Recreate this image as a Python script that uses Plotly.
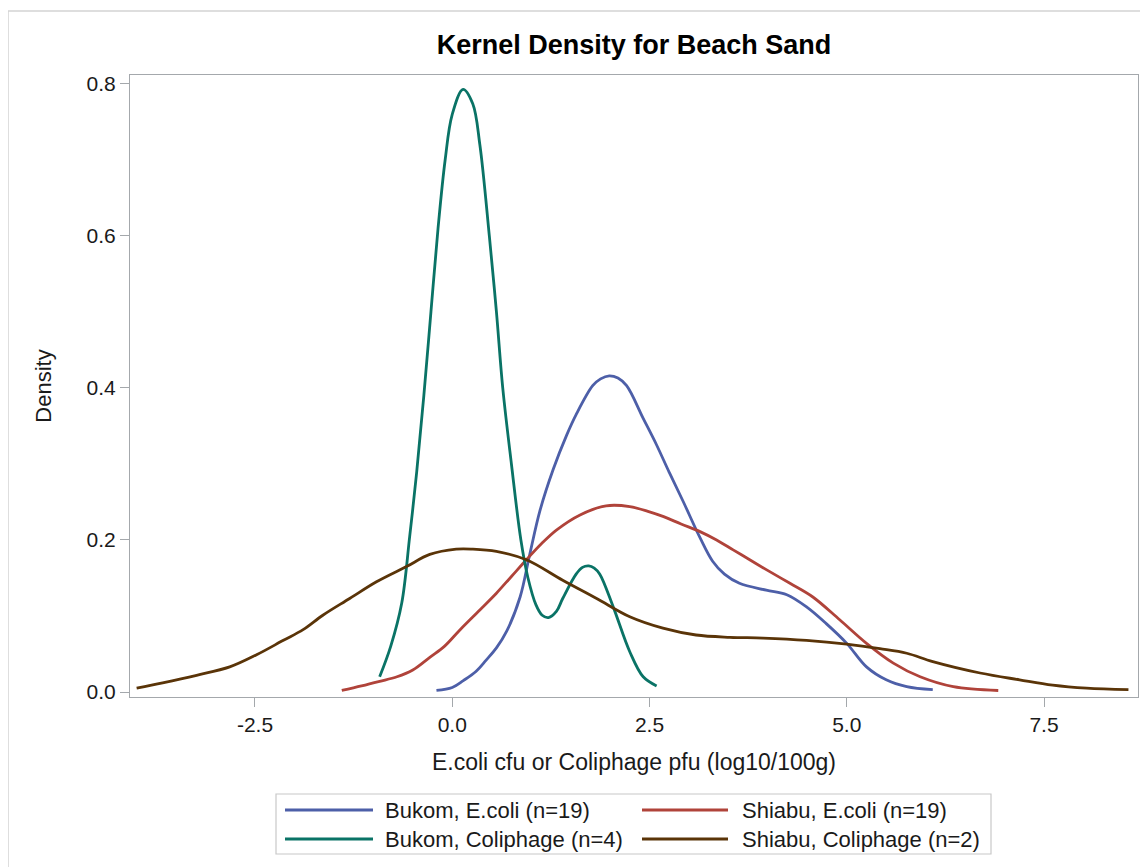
import plotly.graph_objects as go

# ---------------- data ----------------
series_names = ["Bukom, E.coli (n=19)", "Shiabu, E.coli (n=19)",
                "Bukom, Coliphage (n=4)", "Shiabu, Coliphage (n=2)"]
series_colors = ["#4D5FA8", "#B0433A", "#0A7366", "#5A3408"]

bukom_ecoli_x = [-0.20, 0.00, 0.14, 0.30, 0.43, 0.56, 0.69, 0.86, 0.98, 1.11, 1.28, 1.45, 1.57,
                 1.78, 1.88, 1.99, 2.10, 2.21, 2.42, 2.59, 2.75, 2.93, 3.14, 3.30, 3.45, 3.64,
                 3.98, 4.24, 4.49, 4.74, 5.00, 5.25, 5.50, 5.76, 6.09]
bukom_ecoli_y = [0.002, 0.006, 0.015, 0.027, 0.042, 0.058, 0.080, 0.125, 0.180, 0.238, 0.293,
                 0.338, 0.365, 0.403, 0.412, 0.416, 0.413, 0.403, 0.360, 0.325, 0.289, 0.250,
                 0.203, 0.172, 0.155, 0.143, 0.134, 0.128, 0.112, 0.090, 0.064, 0.033, 0.016,
                 0.007, 0.003]

shiabu_ecoli_x = [-1.40, -1.15, -0.92, -0.70, -0.50, -0.28, -0.10, 0.10, 0.35, 0.56, 0.75, 0.94,
                  1.13, 1.32, 1.62, 1.95, 2.25, 2.50, 2.67, 2.90, 3.14, 3.35, 3.56, 3.77, 3.98,
                  4.28, 4.57, 4.91, 5.25, 5.59, 5.93, 6.35, 6.92]
shiabu_ecoli_y = [0.002, 0.008, 0.014, 0.020, 0.029, 0.046, 0.060, 0.082, 0.108, 0.130, 0.152,
                  0.174, 0.195, 0.213, 0.233, 0.245, 0.244, 0.237, 0.231, 0.221, 0.211, 0.200,
                  0.187, 0.174, 0.161, 0.143, 0.125, 0.095, 0.064, 0.038, 0.020, 0.007, 0.002]

bukom_coli_x = [-0.92, -0.78, -0.64, -0.54, -0.45, -0.36, -0.27, -0.18, -0.09, 0.00, 0.137,
                0.26, 0.35, 0.47, 0.56, 0.64, 0.75, 0.87, 0.96, 1.06, 1.14, 1.22, 1.32,
                1.40, 1.57, 1.65, 1.73, 1.80, 1.87, 2.04, 2.25, 2.42, 2.59]
bukom_coli_y = [0.020, 0.060, 0.117, 0.204, 0.290, 0.390, 0.500, 0.610, 0.700, 0.760, 0.793,
                0.774, 0.720, 0.600, 0.500, 0.400, 0.300, 0.200, 0.150, 0.115, 0.101, 0.098,
                0.106, 0.123, 0.155, 0.164, 0.166, 0.163, 0.155, 0.112, 0.053, 0.020, 0.008]

shiabu_coli_x = [-4.00, -3.67, -3.24, -2.82, -2.48, -2.14, -1.89, -1.64, -1.30, -0.96, -0.58,
                 -0.285, 0.05, 0.26, 0.56, 0.94, 1.40, 1.83, 2.25, 2.67, 3.09, 3.52, 3.94, 4.49,
                 5.00, 5.42, 5.76, 6.09, 6.69, 7.19, 7.61, 8.04, 8.57]
shiabu_coli_y = [0.005, 0.012, 0.022, 0.033, 0.049, 0.068, 0.082, 0.101, 0.123, 0.145, 0.165,
                 0.181, 0.188, 0.188, 0.185, 0.174, 0.147, 0.123, 0.099, 0.084, 0.075, 0.072,
                 0.071, 0.068, 0.063, 0.057, 0.051, 0.040, 0.025, 0.016, 0.009, 0.005, 0.003]

x_tick_vals = [-2.5, 0.0, 2.5, 5.0, 7.5]
x_tick_text = ["-2.5", "0.0", "2.5", "5.0", "7.5"]
y_tick_vals = [0.0, 0.2, 0.4, 0.6, 0.8]
y_tick_text = ["0.0", "0.2", "0.4", "0.6", "0.8"]

title_text = "Kernel Density for Beach Sand"
x_title = "E.coli cfu or Coliphage pfu (log10/100g)"
y_title = "Density"

# ---------------- figure ----------------
# page has an 8px body margin: figure origin sits at page (8, 8)
OFF = 8
W, H = 1140, 859
L, T = 130 - OFF, 75 - OFF
R = W - (1138 - OFF)
B = H - (697 - OFF)
PW, PH = W - L - R, H - T - B

def px_x(px):
    """page pixel x -> paper x"""
    return (px - OFF - L) / PW

def px_y(py):
    """page pixel y -> paper y"""
    return (H - B - (py - OFF)) / PH

FONT = "Liberation Sans, Arial, sans-serif"
TXT = "#1a1a1a"

xs = [bukom_ecoli_x, shiabu_ecoli_x, bukom_coli_x, shiabu_coli_x]
ys = [bukom_ecoli_y, shiabu_ecoli_y, bukom_coli_y, shiabu_coli_y]

fig = go.Figure()
for name, color, x, y in zip(series_names, series_colors, xs, ys):
    fig.add_trace(go.Scatter(x=x, y=y, mode="lines", name=name,
                             line=dict(color=color, width=2.8, shape="spline", smoothing=1.0),
                             showlegend=False))

axis_common = dict(showline=True, linecolor="#A4A8AC", linewidth=1.2, mirror=True,
                   showgrid=False, zeroline=False, ticks="outside", ticklen=9,
                   tickcolor="#A4A8AC", tickwidth=1.2,
                   tickfont=dict(family=FONT, size=21, color=TXT))

fig.update_layout(
    width=W, height=H,
    margin=dict(l=L, r=R, t=T, b=B),
    paper_bgcolor="white", plot_bgcolor="white",
    title=dict(text="<b>" + title_text + "</b>", x=0.5, xref="paper",
               y=1 - (45 - OFF) / H, yref="container", yanchor="middle", xanchor="center",
               font=dict(family=FONT, size=27, color="#000")),
    xaxis=dict(range=[-4.084, 8.691], tickvals=x_tick_vals, ticktext=x_tick_text,
               title=dict(text=x_title, font=dict(family=FONT, size=23, color=TXT), standoff=18),
               **axis_common),
    yaxis=dict(range=[-0.00658, 0.8118], tickvals=y_tick_vals, ticktext=y_tick_text,
               title=dict(text=y_title, font=dict(family=FONT, size=22, color=TXT), standoff=28),
               **axis_common),
    showlegend=False,
)

# outer light frame of the graph image
fig.add_shape(type="rect", xref="paper", yref="paper",
              x0=px_x(8), x1=px_x(1300), y0=px_y(1000), y1=px_y(11),
              line=dict(color="#D4D4D4", width=1.5), fillcolor="rgba(0,0,0,0)", layer="below")

# legend box (built from the series lists)
fig.add_shape(type="rect", xref="paper", yref="paper",
              x0=px_x(276), x1=px_x(991), y0=px_y(854), y1=px_y(794),
              line=dict(color="#C8C8C8", width=1.2), fillcolor="rgba(0,0,0,0)")
col_line = [(285, 373), (642, 728)]
col_text = [383, 740]
row_y = [810, 839]
for i, (name, color) in enumerate(zip(series_names, series_colors)):
    c, r = i % 2, i // 2
    fig.add_shape(type="line", xref="paper", yref="paper",
                  x0=px_x(col_line[c][0]), x1=px_x(col_line[c][1]),
                  y0=px_y(row_y[r]), y1=px_y(row_y[r]),
                  line=dict(color=color, width=3))
    fig.add_annotation(text=name, xref="paper", yref="paper",
                       x=px_x(col_text[c]), y=px_y(row_y[r]),
                       xanchor="left", yanchor="middle", showarrow=False,
                       font=dict(family=FONT, size=22, color=TXT))

fig.write_html("out.html")
